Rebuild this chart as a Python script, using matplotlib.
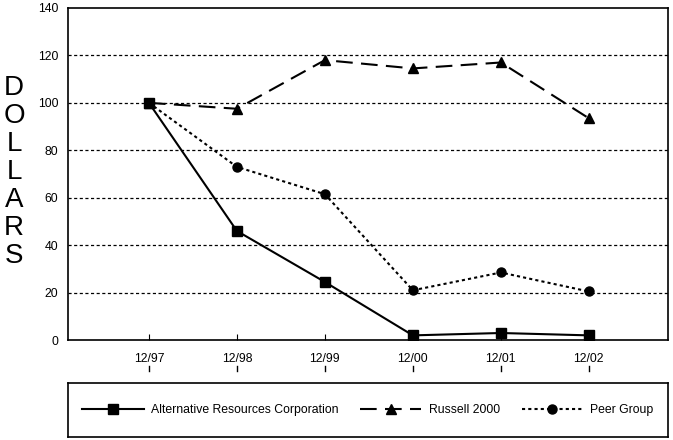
import matplotlib
matplotlib.use("Agg")
import matplotlib.pyplot as plt
import matplotlib.transforms as mtransforms

plt.rcParams['font.family'] = ['Liberation Sans', 'DejaVu Sans']

# data
periods = ["12/97", "12/98", "12/99", "12/00", "12/01", "12/02"]
arc = [100, 46, 24.5, 2, 3, 2]
russell = [100, 97.5, 118, 114.5, 117, 93.5]
peer = [100, 73, 61.5, 21, 28.5, 20.5]
series_names = ["Alternative Resources Corporation", "Russell 2000", "Peer Group"]

fig = plt.figure(figsize=(6.73, 4.4), dpi=100)
ax = fig.add_axes([0.101, 0.227, 0.8916, 0.755])

x = list(range(len(periods)))
l1, = ax.plot(x, arc, color='black', lw=1.5, marker='s', ms=6.5, label=series_names[0])
l2, = ax.plot(x, russell, color='black', lw=1.5, dashes=(8, 4), marker='^', ms=7, label=series_names[1])
l3, = ax.plot(x, peer, color='black', lw=1.5, dashes=(1.5, 1.5), marker='o', ms=6.5, label=series_names[2])

ax.set_xlim(-0.92, 5.9)
ax.set_ylim(0, 140)
ax.set_yticks(range(0, 141, 20))
for yv in range(20, 140, 20):
    ax.axhline(yv, color='black', lw=0.9, dashes=(2.5, 2), zorder=0)

ax.set_xticks(x)
ax.set_xticklabels(periods)
ax.tick_params(axis='x', direction='in', length=4, pad=9, labelsize=8.8)
ax.tick_params(axis='y', length=0, pad=7, labelsize=8.8)
for s in ax.spines.values():
    s.set_linewidth(1.2)

# small tick marks under the date labels
trans = mtransforms.blended_transform_factory(ax.transData, ax.transAxes)
for xi in x:
    ax.plot([xi, xi], [-0.077, -0.093], color='black', lw=1, transform=trans, clip_on=False)

fig.text(0.021, 0.608, "D\nO\nL\nL\nA\nR\nS", fontsize=20, ha='center', va='center',
         linespacing=1.1)

# legend box
lax = fig.add_axes([0.101, 0.007, 0.8916, 0.123])
lax.set_xticks([])
lax.set_yticks([])
for s in lax.spines.values():
    s.set_linewidth(1.2)
lax.legend(handles=[l1, l2, l3], loc='center', ncol=3, frameon=False, fontsize=8.8,
           handlelength=5.0, columnspacing=1.8, handletextpad=0.6)

fig.savefig("out.png", dpi=100)
